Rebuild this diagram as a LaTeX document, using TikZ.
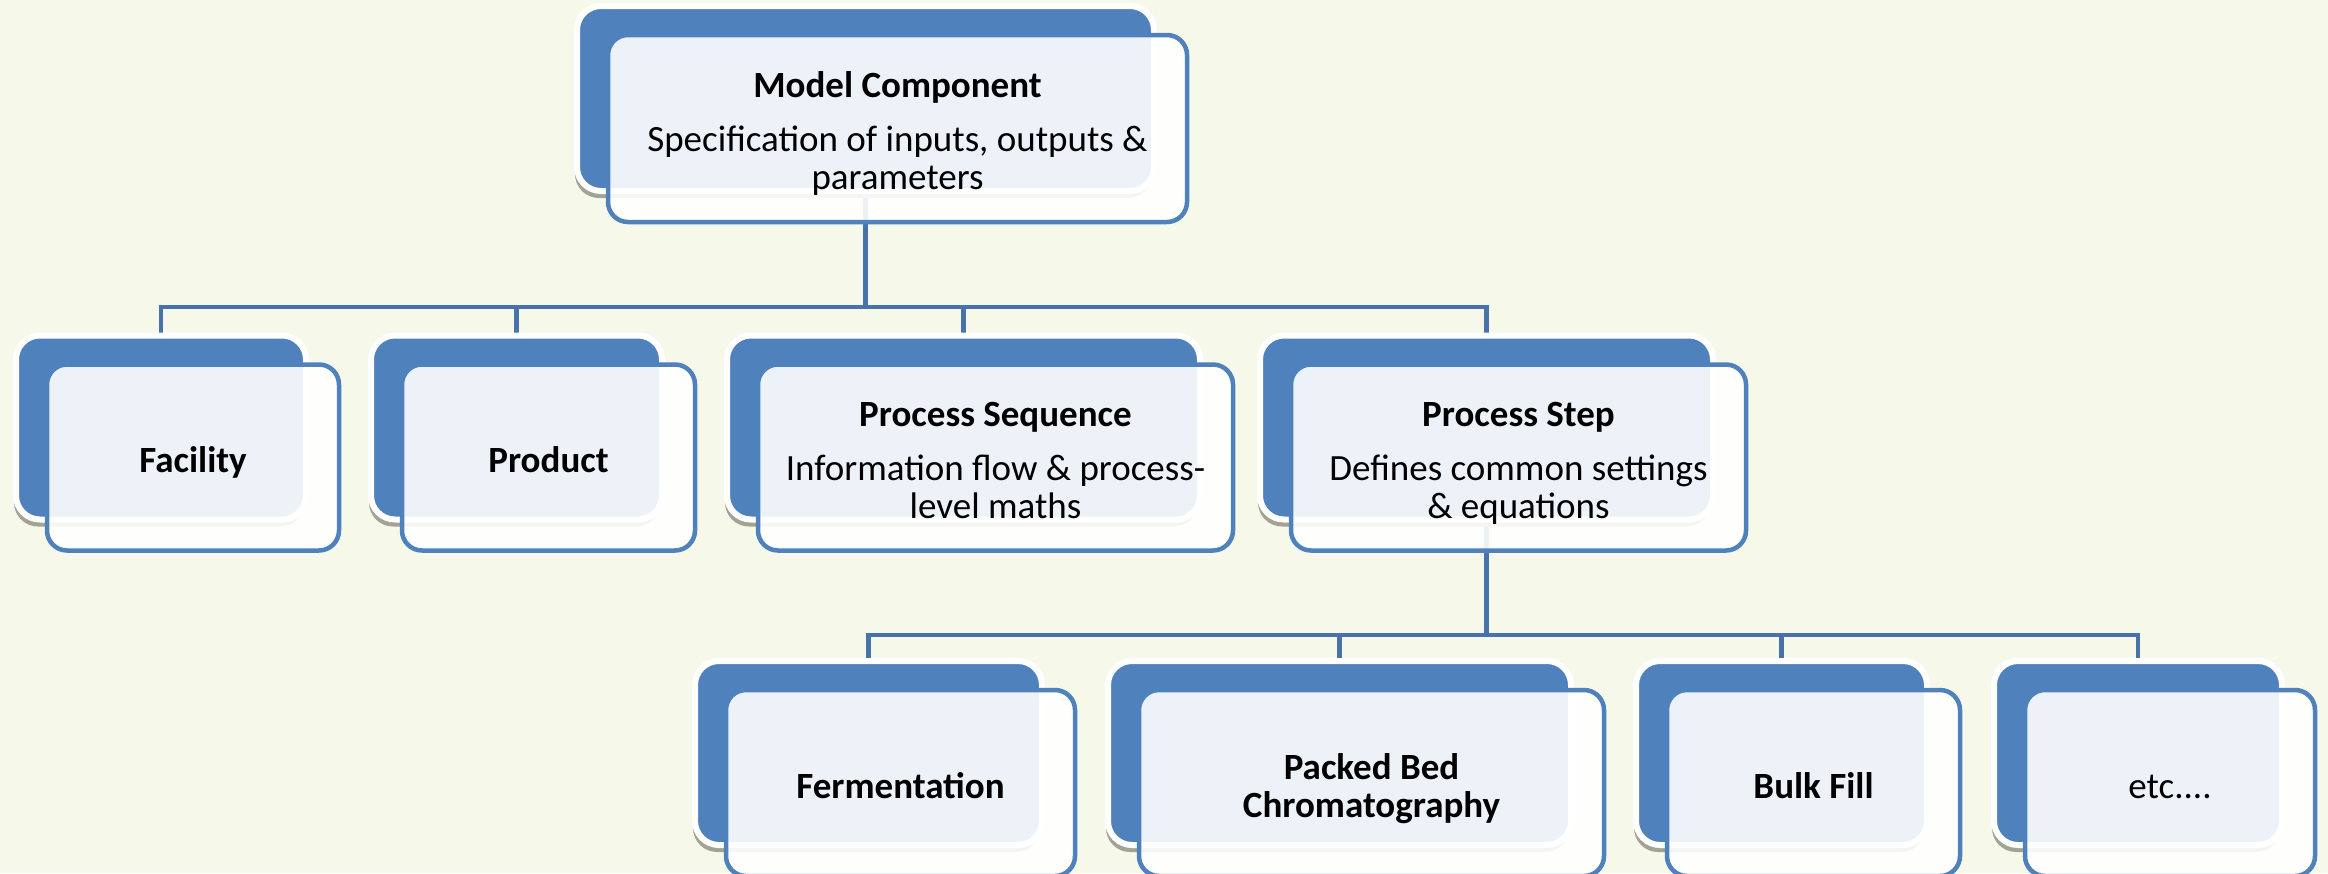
\documentclass[tikz,border=0pt]{standalone}
\usepackage{fontspec}
\setmainfont{Carlito}
\usetikzlibrary{shadows}
\definecolor{pagebg}{HTML}{F6F9EA}
\definecolor{boxblue}{HTML}{4F81BD}
\definecolor{linkblue}{HTML}{4772AA}
\definecolor{shadowgray}{HTML}{A3A294}
\tikzset{backbox/.style={rectangle, rounded corners=24pt, fill=boxblue, draw=white, line width=6pt,
    drop shadow={shadow xshift=-2pt, shadow yshift=-7pt, fill=shadowgray, opacity=1}}}
\tikzset{frontbox/.style={rectangle, rounded corners=20pt, draw=boxblue, line width=4.5pt,
    fill=white, fill opacity=0.9, text opacity=1, align=center, font=\fontsize{37}{38}\selectfont}}
\tikzset{link/.style={draw=linkblue, line width=4.5pt}}
% name, x, y, width, height, text
\newcommand{\compbox}[6]{%
  \node[backbox, minimum width=#4+6, minimum height=#5+6] (#1) at (#2,#3) {};
  \node[frontbox, minimum width=#4+8, minimum height=#5+8] (#1-f) at (#2+32,#3+30)
    {\rule{0pt}{39pt}#6\rule[-9pt]{0pt}{0pt}};
}
\pgfdeclarelayer{paper}
\pgfdeclarelayer{links}
\pgfsetlayers{paper,links,main}

\begin{document}
\begin{tikzpicture}[x=1pt, y=-1pt]
      \useasboundingbox (0,0) rectangle (2328,873);
      \begin{pgfonlayer}{paper}
        \fill[pagebg] (0,0) rectangle (2328,873);
      \end{pgfonlayer}

      \compbox{mc}{865.5}{98.5}{571}{179}{\textbf{Model Component}\\[16pt]Specification of inputs, outputs \&\\parameters}

      \compbox{fac}{161}{427.5}{284}{178}{\textbf{Facility}}
      \compbox{prod}{516.5}{427.5}{285}{178}{\textbf{Product}}
      \compbox{pseq}{963.5}{427.5}{467}{178}{\textbf{Process Sequence}\\[16pt]Information flow \& process-\\level maths}
      \compbox{pstep}{1486.5}{427.5}{447}{178}{\textbf{Process Step}\\[16pt]Defines common settings\\\& equations}

      \compbox{ferm}{868.5}{753}{341}{178}{\textbf{Fermentation}}
      \compbox{pbc}{1339.5}{753}{457}{178}{\textbf{Packed Bed}\\\textbf{Chromatography}}
      \compbox{bulk}{1781.5}{753}{285}{178}{\textbf{Bulk Fill}}
      \compbox{etc}{2138}{753}{282}{178}{etc....}

      \begin{pgfonlayer}{links}
        \coordinate (bus1) at (865.5,307);
        \coordinate (bus2) at (1486.5,635);
        \draw[link] (mc.south) -- (bus1);
        \foreach \n in {fac,prod,pseq,pstep}
          \draw[link] (bus1) -| (\n.north);
        \draw[link] (pstep.south) -- (bus2);
        \foreach \n in {ferm,pbc,bulk,etc}
          \draw[link] (bus2) -| (\n.north);
      \end{pgfonlayer}
\end{tikzpicture}
\end{document}
